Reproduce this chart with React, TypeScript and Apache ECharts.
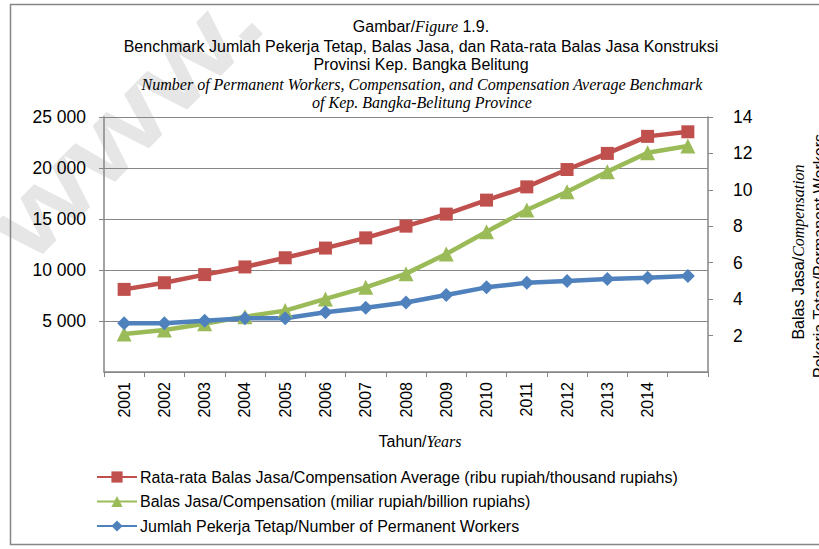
import React, { useEffect, useRef } from "react";
import * as echarts from "echarts";

const years = ["2001","2002","2003","2004","2005","2006","2007","2008","2009","2010","2011","2012","2013","2014",""];
const compensationAverage = [8100, 8750, 9550, 10300, 11200, 12150, 13150, 14300, 15480, 16850, 18150, 19850, 21430, 23100, 23550];
const compensation = [2.09, 2.31, 2.65, 3.04, 3.37, 4.01, 4.65, 5.4, 6.48, 7.7, 8.89, 9.9, 11.0, 12.04, 12.41];
const permanentWorkers = [4780, 4780, 5030, 5270, 5270, 5850, 6300, 6810, 7550, 8300, 8750, 8920, 9120, 9250, 9410];

const legendNames = [
  "Rata-rata Balas Jasa/Compensation Average (ribu rupiah/thousand rupiahs)",
  "Balas Jasa/Compensation (miliar rupiah/billion rupiahs)",
  "Jumlah Pekerja Tetap/Number of Permanent Workers",
];

const SANS = "Liberation Sans";
const SERIF = "Liberation Serif";
const GRAY = "#868686";

export default function App() {
  const ref = useRef<HTMLDivElement>(null);
  useEffect(() => {
    if (!ref.current) return;
    const chart = echarts.init(ref.current, null, { renderer: "svg" });
    const sans = { fontFamily: SANS, fontSize: 16, color: "#000" };
    const ital = { fontFamily: SERIF, fontSize: 16, fontStyle: "italic", color: "#000" };
    chart.setOption({
      animation: false,
      backgroundColor: "#fff",
      grid: { left: 104, right: 111, top: 117, bottom: 177, containLabel: false },
      graphic: [
        {
          type: "text", z: 0, x: 124, y: 121, rotation: Math.PI / 4, scaleX: 1.25,
          style: { text: "www.", font: `bold 105px ${SANS}`, fill: "#e6e6e6", align: "center", verticalAlign: "middle" },
        },
        {
          type: "rect", z: 1, shape: { x: 10.5, y: 4.5, width: 830, height: 540 },
          style: { fill: null, stroke: GRAY, lineWidth: 1.5 },
        },
        {
          type: "text", z: 5, x: 421, y: 26,
          style: {
            text: "{s|Gambar/}{i|Figure}{s| 1.9.}", align: "center", verticalAlign: "middle",
            rich: { s: sans, i: ital },
          },
        },
        {
          type: "text", z: 5, x: 421, y: 46,
          style: { text: "Benchmark Jumlah Pekerja Tetap, Balas Jasa, dan Rata-rata Balas Jasa Konstruksi", font: `16px ${SANS}`, fill: "#000", align: "center", verticalAlign: "middle" },
        },
        {
          type: "text", z: 5, x: 421, y: 64,
          style: { text: "Provinsi Kep. Bangka Belitung", font: `16px ${SANS}`, fill: "#000", align: "center", verticalAlign: "middle" },
        },
        {
          type: "text", z: 5, x: 422, y: 84,
          style: { text: "Number of Permanent Workers, Compensation, and Compensation Average Benchmark", font: `italic 16px ${SERIF}`, fill: "#000", align: "center", verticalAlign: "middle" },
        },
        {
          type: "text", z: 5, x: 422, y: 102,
          style: { text: "of Kep. Bangka-Belitung Province", font: `italic 16px ${SERIF}`, fill: "#000", align: "center", verticalAlign: "middle" },
        },
        {
          type: "text", z: 5, x: 420, y: 441,
          style: {
            text: "{s|Tahun/}{i|Years}", align: "center", verticalAlign: "middle",
            rich: { s: sans, i: ital },
          },
        },
        {
          type: "text", z: 5, x: 798, y: 252, rotation: Math.PI / 2,
          style: {
            text: "{s|Balas Jasa/}{i|Compensation}", align: "center", verticalAlign: "middle",
            rich: { s: sans, i: ital },
          },
        },
        {
          type: "text", z: 5, x: 819, y: 256, rotation: Math.PI / 2,
          style: {
            text: "{s|Pekerja Tetap/Permanent Workers}", align: "center", verticalAlign: "middle",
            rich: { s: sans },
          },
        },
      ],
      legend: {
        orient: "vertical", left: 96, top: 469, padding: 0, itemWidth: 40, itemHeight: 14, itemGap: 8.5,
        textStyle: { fontFamily: SANS, fontSize: 16, color: "#000", padding: [0, 0, 0, -2] },
        data: legendNames,
      },
      xAxis: {
        type: "category", data: years, boundaryGap: true,
        axisLine: { show: true, lineStyle: { color: GRAY, width: 1.5 } },
        axisTick: { show: true, length: 5, lineStyle: { color: GRAY } },
        axisLabel: { rotate: 90, interval: 0, margin: 10, fontFamily: SANS, fontSize: 16, color: "#000" },
      },
      yAxis: [
        {
          type: "value", min: 0, max: 25000, interval: 5000,
          axisLine: { show: true, lineStyle: { color: GRAY, width: 1.5 } },
          axisTick: { show: true, length: 5, lineStyle: { color: GRAY } },
          splitLine: { show: true, lineStyle: { color: GRAY, width: 1 } },
          axisLabel: {
            showMinLabel: false, margin: 18, fontFamily: SANS, fontSize: 17.5, color: "#000",
            formatter: (v: number) => (v >= 1000 ? `${Math.floor(v / 1000)} ${String(v % 1000).padStart(3, "0")}` : String(v)),
          },
        },
        {
          type: "value", min: 0, max: 14, interval: 2, position: "right",
          axisLine: { show: true, lineStyle: { color: GRAY, width: 1.5 } },
          axisTick: { show: true, length: 5, lineStyle: { color: GRAY } },
          splitLine: { show: false },
          axisLabel: { showMinLabel: false, margin: 25, fontFamily: SANS, fontSize: 17.5, color: "#000" },
        },
      ],
      series: [
        {
          name: legendNames[0], type: "line", yAxisIndex: 0, data: compensationAverage,
          symbol: "rect", symbolSize: 13, color: "#C0504D",
          lineStyle: { width: 4.5, color: "#C0504D" }, itemStyle: { color: "#C0504D" },
        },
        {
          name: legendNames[1], type: "line", yAxisIndex: 1, data: compensation,
          symbol: "triangle", symbolSize: 15, color: "#9BBB59",
          lineStyle: { width: 4.5, color: "#9BBB59" }, itemStyle: { color: "#9BBB59" },
        },
        {
          name: legendNames[2], type: "line", yAxisIndex: 0, data: permanentWorkers,
          symbol: "diamond", symbolSize: 14, color: "#4F81BD",
          lineStyle: { width: 4.5, color: "#4F81BD" }, itemStyle: { color: "#4F81BD" },
        },
      ],
    });
    return () => chart.dispose();
  }, []);
  return <div ref={ref} style={{ position: "absolute", left: 0, top: 0, width: 819, height: 549 }} />;
}
